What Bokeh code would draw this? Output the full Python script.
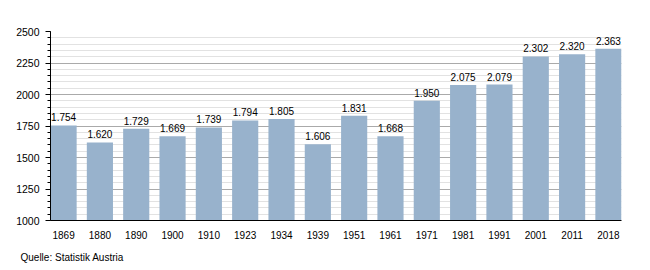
from bokeh.plotting import figure
from bokeh.models import Range1d, SingleIntervalTicker, FixedTicker, Title, ColumnDataSource
from bokeh.embed import file_html
from bokeh.resources import INLINE
from bokeh.core.properties import value

years = ["1869", "1880", "1890", "1900", "1910", "1923", "1934", "1939",
         "1951", "1961", "1971", "1981", "1991", "2001", "2011", "2018"]
population = [1754, 1620, 1729, 1669, 1739, 1794, 1805, 1606,
              1831, 1668, 1950, 2075, 2079, 2302, 2320, 2363]
y_min, y_max = 1000, 2500
source_text = "Quelle: Statistik Austria"

FONT = "Liberation Sans"
idx = list(range(len(years)))
labels = [f"{v:,}".replace(",", ".") for v in population]
src = ColumnDataSource(dict(x=idx, top=population, lab=labels))

p = figure(width=650, height=270, output_backend="svg", toolbar_location=None,
           x_range=Range1d(-0.36, len(years) - 1 + 0.36),
           y_range=Range1d(y_min, y_max),
           min_border_left=50, min_border_right=29, min_border_top=31, min_border_bottom=50)
p.outline_line_color = None
p.background_fill_color = "white"
p.border_fill_color = "white"

p.vbar(x="x", top="top", bottom=y_min, width=0.72, source=src,
       fill_color="#98b2cc", line_color=None)
p.text(x="x", y="top", text="lab", source=src, text_align="center",
       text_baseline="bottom", y_offset=-4, text_font=value(FONT),
       text_font_size="10px", text_color="black")

p.yaxis.ticker = SingleIntervalTicker(interval=250, num_minor_ticks=5)
p.yaxis.major_tick_out = 5
p.yaxis.major_tick_in = 0
p.yaxis.minor_tick_out = 3
p.yaxis.minor_tick_in = 0
p.yaxis.axis_line_color = "black"
p.yaxis.major_tick_line_color = "black"
p.yaxis.minor_tick_line_color = "black"
p.yaxis.major_label_text_font = FONT
p.yaxis.major_label_text_font_size = "10.5px"
p.yaxis.major_label_text_color = "black"
p.yaxis.major_label_standoff = 6

p.xaxis.ticker = FixedTicker(ticks=idx)
p.xaxis.major_label_overrides = {i: y for i, y in enumerate(years)}
p.xaxis.major_tick_line_color = None
p.xaxis.minor_tick_line_color = None
p.xaxis.axis_line_color = "black"
p.xaxis.major_label_text_font = FONT
p.xaxis.major_label_text_font_size = "10px"
p.xaxis.major_label_text_color = "black"
p.xaxis.major_label_standoff = 4

p.xgrid.grid_line_color = None
p.ygrid.grid_line_color = "#aaaaaa"
p.ygrid.minor_grid_line_color = "#e2e2e2"

src_title = Title(text=source_text, align="left", offset=-30, standoff=16,
                  text_font=FONT, text_font_size="10px", text_font_style="normal",
                  text_color="black")
p.add_layout(src_title, "below")

open("out.html", "w").write(file_html(p, INLINE))
